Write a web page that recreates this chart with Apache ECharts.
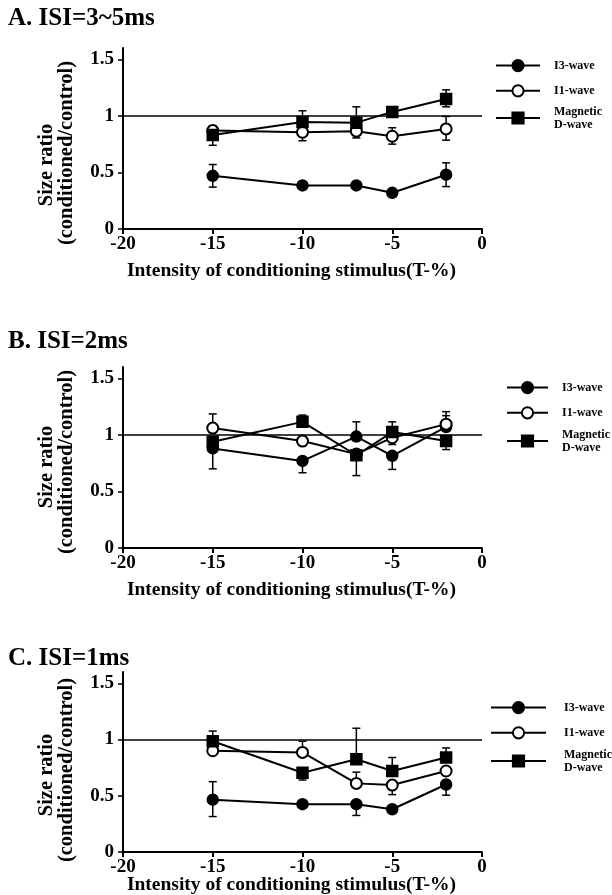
<!DOCTYPE html>
<html>
<head>
<meta charset="utf-8">
<script src="https://cdn.jsdelivr.net/npm/echarts@6/dist/echarts.min.js"></script>
<style>
  html, body { margin: 0; padding: 0; background: #fff; }
  #chart { width: 612px; height: 895px; }
</style>
</head>
<body>
<div id="chart"></div>
<script>
  // conditioning stimulus intensities (T-%)
  const stimulus = [-15, -10, -7, -5, -2]
  const xTicks = [-20, -15, -10, -5, 0]
  const yTicks = [0, 0.5, 1, 1.5]
  const seriesNames = ['I3-wave', 'I1-wave', 'Magnetic D-wave']
  const panelTitles = ['A. ISI=3~5ms', 'B. ISI=2ms', 'C. ISI=1ms']

  // A. ISI=3~5ms  (error = [up, down])
  const aI3 = [0.47, 0.385, 0.385, 0.32, 0.48]
  const aI3Err = [[0.1, 0.1], [0, 0], [0, 0], [0, 0], [0.105, 0.105]]
  const aI1 = [0.87, 0.855, 0.865, 0.82, 0.885]
  const aI1Err = [[0.04, 0], [0, 0.075], [0, 0.06], [0.075, 0.07], [0.11, 0.1]]
  const aD = [0.83, 0.945, 0.94, 1.035, 1.15]
  const aDErr = [[0, 0.09], [0.1, 0], [0.14, 0], [0, 0], [0.08, 0.07]]

  // B. ISI=2ms
  const bI3 = [0.88, 0.77, 0.985, 0.815, 1.07]
  const bI3Err = [[0, 0.18], [0, 0.105], [0.13, 0], [0, 0.12], [0.1, 0]]
  const bI1 = [1.06, 0.945, 0.83, 0.975, 1.095]
  const bI1Err = [[0.125, 0], [0, 0], [0, 0], [0, 0.06], [0.11, 0]]
  const bD = [0.94, 1.115, 0.82, 1.025, 0.945]
  const bDErr = [[0, 0], [0.06, 0], [0, 0.18], [0.09, 0], [0, 0.075]]

  // C. ISI=1ms
  const cI3 = [0.465, 0.425, 0.425, 0.38, 0.6]
  const cI3Err = [[0.16, 0.15], [0, 0], [0, 0.1], [0, 0], [0, 0.095]]
  const cI1 = [0.9, 0.885, 0.61, 0.595, 0.72]
  const cI1Err = [[0, 0], [0.1, 0], [0.1, 0], [0, 0.085], [0, 0]]
  const cD = [0.985, 0.705, 0.825, 0.72, 0.84]
  const cDErr = [[0.09, 0], [0, 0.065], [0.275, 0], [0.12, 0], [0.085, 0]]

  const serif = '"Liberation Serif", "Times New Roman", serif'
  const symbols = ['circle', 'emptyCircle', 'rect']

  // layout of each panel (px)
  const panels = [
    { top: 48, height: 181, nameGap: 32, yLab: [165, 153], legX: 495, legW: 44, legPad: 9, legY: [66, 92, 118], values: [aI3, aI1, aD], errs: [aI3Err, aI1Err, aDErr] },
    { top: 367, height: 181, nameGap: 32, yLab: [467, 462], legX: 506, legW: 41, legPad: 9, legY: [388, 414, 441], values: [bI3, bI1, bD], errs: [bI3Err, bI1Err, bDErr] },
    { top: 672, height: 180, nameGap: 23, yLab: [775, 770], legX: 490, legW: 55, legPad: 13, legY: [708, 735, 761], values: [cI3, cI1, cD], errs: [cI3Err, cI1Err, cDErr] }
  ]
  const titleCenters = [19, 342, 659]

  function renderErrorBar(params, api) {
    const x = api.value(0)
    const lo = api.value(1)
    const hi = api.value(2)
    const mid = api.value(3)
    const pm = api.coord([x, mid])
    const cap = 4
    const style = { stroke: '#000', lineWidth: 1.5 }
    const children = []
    if (hi > mid) {
      const p = api.coord([x, hi])
      children.push({ type: 'line', shape: { x1: pm[0], y1: pm[1], x2: p[0], y2: p[1] }, style })
      children.push({ type: 'line', shape: { x1: p[0] - cap, y1: p[1], x2: p[0] + cap, y2: p[1] }, style })
    }
    if (lo < mid) {
      const p = api.coord([x, lo])
      children.push({ type: 'line', shape: { x1: pm[0], y1: pm[1], x2: p[0], y2: p[1] }, style })
      children.push({ type: 'line', shape: { x1: p[0] - cap, y1: p[1], x2: p[0] + cap, y2: p[1] }, style })
    }
    return { type: 'group', children }
  }

  const grid = []
  const xAxis = []
  const yAxis = []
  const series = []
  const legend = []
  const graphicItems = []
  const title = []

  const axisFont = { fontFamily: serif, fontWeight: 'bold', fontSize: 19, color: '#000' }
  const legendFont = { fontFamily: serif, fontWeight: 'bold', fontSize: 12, lineHeight: 13, color: '#000' }

  panels.forEach((p, i) => {
    grid.push({ left: 123, width: 359, top: p.top, height: p.height, outerBoundsMode: 'none' })
    xAxis.push({
      gridIndex: i,
      type: 'value',
      min: -20,
      max: 0,
      interval: 5,
      name: 'Intensity of conditioning stimulus(T-%)',
      nameLocation: 'middle',
      nameGap: p.nameGap,
      nameMoveOverlap: false,
      nameTextStyle: { fontFamily: serif, fontWeight: 'bold', fontSize: 19.5, color: '#000', padding: [0, 22, 0, 0] },
      axisLine: { onZero: false, lineStyle: { color: '#000', width: 2 } },
      axisTick: { length: 5, lineStyle: { color: '#000', width: 2 }, customValues: xTicks },
      axisLabel: Object.assign({ margin: 6, customValues: xTicks }, axisFont),
      splitLine: { show: false }
    })
    yAxis.push({
      gridIndex: i,
      type: 'value',
      min: 0,
      max: 1.6,
      axisLine: { show: true, onZero: false, lineStyle: { color: '#000', width: 2 } },
      axisTick: { show: true, length: 5, lineStyle: { color: '#000', width: 1.5 }, customValues: yTicks },
      axisLabel: Object.assign({ margin: 9, customValues: yTicks }, axisFont),
      splitLine: { show: false }
    })

    // error bars under the markers
    p.values.forEach((vals, s) => {
      series.push({
        type: 'custom',
        xAxisIndex: i,
        yAxisIndex: i,
        z: 1,
        silent: true,
        renderItem: renderErrorBar,
        data: stimulus.map((x, k) => [x, vals[k] - p.errs[s][k][1], vals[k] + p.errs[s][k][0], vals[k]])
      })
    })

    p.values.forEach((vals, s) => {
      const item = {
        name: seriesNames[s],
        type: 'line',
        xAxisIndex: i,
        yAxisIndex: i,
        z: 3,
        symbol: symbols[s],
        symbolSize: 11,
        lineStyle: { color: '#000', width: 2 },
        itemStyle: { color: '#000', borderColor: '#000', borderWidth: 1.5 },
        data: stimulus.map((x, k) => [x, vals[k]])
      }
      if (s === 0) {
        item.markLine = {
          silent: true,
          symbol: ['none', 'none'],
          label: { show: false },
          lineStyle: { color: '#000', width: 1.5, type: 'solid' },
          data: [{ yAxis: 1 }]
        }
      }
      series.push(item)
    })

    legend.push({
      orient: 'vertical',
      left: p.legX,
      top: p.legY[0] - 7,
      padding: 0,
      itemWidth: p.legW,
      itemHeight: 14,
      itemGap: 12,
      selectedMode: false,
      data: ['I3-wave', 'I1-wave'],
      textStyle: Object.assign({ padding: [0, 0, 0, p.legPad] }, legendFont)
    })
    legend.push({
      orient: 'vertical',
      left: p.legX,
      top: p.legY[2] - 19.5,
      padding: 0,
      itemWidth: p.legW,
      itemHeight: 14,
      selectedMode: false,
      data: ['Magnetic D-wave'],
      formatter: name => name.replace(' ', '\n'),
      textStyle: Object.assign({ padding: [13, 0, 0, p.legPad] }, legendFont)
    })

    graphicItems.push({
      type: 'text', x: 47, y: p.yLab[0], rotation: Math.PI / 2,
      style: { text: 'Size ratio', fontFamily: serif, fontWeight: 'bold', fontSize: 20.5, fill: '#000', align: 'center', verticalAlign: 'middle' }
    })
    graphicItems.push({
      type: 'text', x: 67, y: p.yLab[1], rotation: Math.PI / 2,
      style: { text: '(conditioned/control)', fontFamily: serif, fontWeight: 'bold', fontSize: 20.5, fill: '#000', align: 'center', verticalAlign: 'middle' }
    })

    title.push({
      text: panelTitles[i],
      left: 8,
      top: titleCenters[i] - 13,
      padding: 0,
      textStyle: { fontFamily: serif, fontWeight: 'bold', fontSize: 25, color: '#000' }
    })
  })

  const chart = echarts.init(document.getElementById('chart'))
  chart.setOption({
    animation: false,
    backgroundColor: '#fff',
    title,
    legend,
    grid,
    xAxis,
    yAxis,
    graphic: graphicItems,
    series
  })
</script>
</body>
</html>
